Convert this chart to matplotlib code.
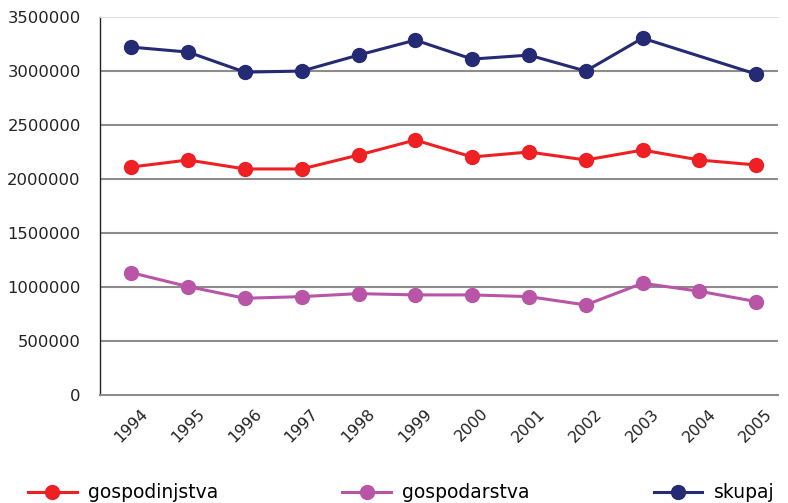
import numpy as np
import matplotlib.pyplot as plt

years = ['1994', '1995', '1996', '1997', '1998', '1999',
         '2000', '2001', '2002', '2003', '2004', '2005']
gospodinjstva = [2111000, 2176000, 2093000, 2093000, 2222000, 2361000,
                 2204000, 2250000, 2176000, 2268000, 2176000, 2130000]
gospodarstva = [1132000, 1003000, 895000, 910000, 938000, 926000,
                926000, 910000, 833000, 1034000, 960000, 864000]
# skupaj has no value for 2004
skupaj_years = ['1994', '1995', '1996', '1997', '1998', '1999',
                '2000', '2001', '2002', '2003', '2005']
skupaj = [3222000, 3176000, 2990000, 3000000, 3148000, 3287000,
          3111000, 3148000, 3000000, 3305000, 2972000]

plt.rcParams['font.family'] = ['DejaVu Sans']

fig = plt.figure(figsize=(7.88, 5.03), dpi=100)
ax = fig.add_axes([0.127, 0.215, 0.86, 0.751])

x = np.arange(len(years))
xs = [years.index(y) for y in skupaj_years]

ax.plot(x, gospodinjstva, color='#ee2024', lw=2.2, marker='o', ms=10,
        label='gospodinjstva')
ax.plot(x, gospodarstva, color='#b955a7', lw=2.2, marker='o', ms=10,
        label='gospodarstva')
ax.plot(xs, skupaj, color='#242a73', lw=2.2, marker='o', ms=10,
        label='skupaj')

ax.set_ylim(0, 3500000)
ax.set_xlim(-0.55, 11.38)
ax.set_yticks(np.arange(0, 3500001, 500000))
ax.set_yticklabels([str(v) for v in range(0, 3500001, 500000)], fontsize=11.8,
                   color='#222222')
ax.set_xticks(x)
ax.set_xticklabels(years, rotation=45, ha='center', va='top',
                   fontsize=11.3, color='#222222')
ax.tick_params(axis='y', length=0, pad=14)
ax.tick_params(axis='x', length=0, pad=8)

for v in range(500000, 3500000, 500000):
    ax.axhline(v, color='#8c8c8c', lw=1.5, zorder=0)
ax.spines['right'].set_visible(False)
ax.spines['top'].set_color('#dcdcee')
ax.spines['top'].set_linewidth(0.8)
ax.spines['bottom'].set_color('#8c8c8c')
ax.spines['bottom'].set_linewidth(1.5)
ax.spines['left'].set_color('#222222')
ax.spines['left'].set_linewidth(1.0)

fig.legend(loc='lower left', bbox_to_anchor=(0.014, -0.032, 0.99, 0.06),
           mode='expand', ncol=3, frameon=False, fontsize=13.5,
           handlelength=2.6, handletextpad=0.6)

fig.savefig('out.png', dpi=100)
